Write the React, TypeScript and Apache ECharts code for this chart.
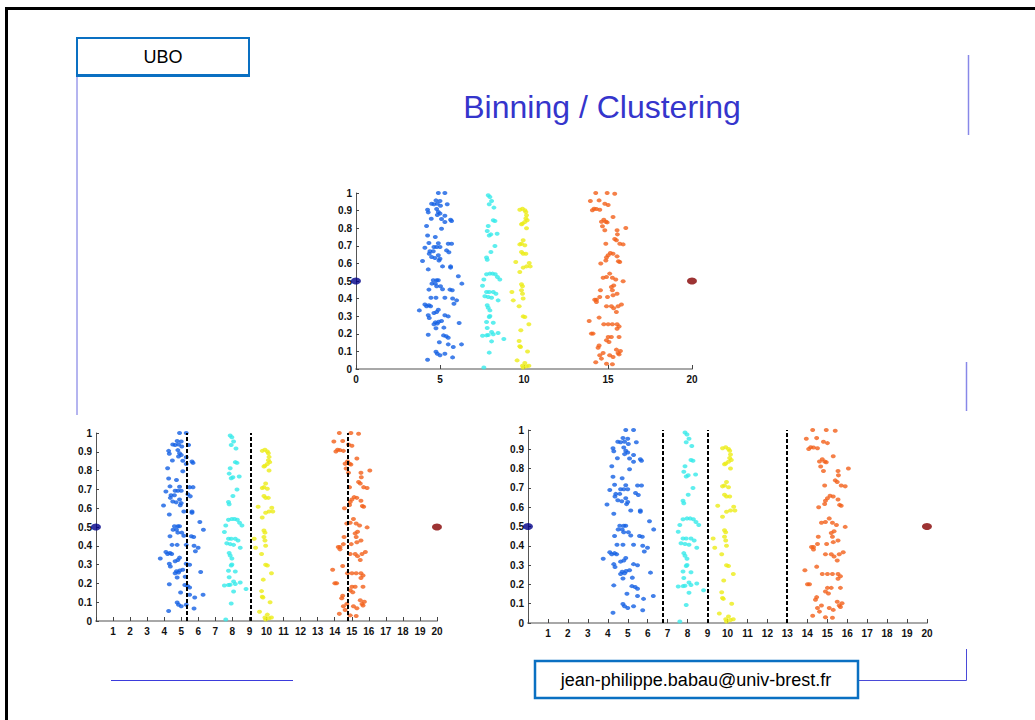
import React, { useEffect, useRef } from "react";
import * as echarts from "echarts";

// ---- data ----
const bluePoints: number[][] = [
  [4.90, 1.00], [5.29, 1.00], [4.76, 0.958], [5.00, 0.955],
  [4.50, 0.939], [4.64, 0.936], [4.84, 0.939], [5.03, 0.928], [5.43, 0.936],
  [4.26, 0.905], [4.30, 0.890], [4.80, 0.909], [4.90, 0.892],
  [5.00, 0.883], [4.84, 0.875], [5.29, 0.871],
  [4.48, 0.854], [5.09, 0.852], [5.63, 0.848], [5.69, 0.841], [5.29, 0.835],
  [5.09, 0.797], [4.20, 0.8125], [4.26, 0.758], [4.72, 0.75],
  [4.34, 0.716], [4.10, 0.689], [4.90, 0.714], [5.49, 0.712], [5.69, 0.712],
  [4.64, 0.693], [4.80, 0.693], [5.00, 0.693],
  [4.40, 0.669], [4.36, 0.655], [4.60, 0.669], [5.39, 0.674], [5.53, 0.663],
  [4.90, 0.646], [5.00, 0.627], [4.94, 0.616], [4.50, 0.636], [4.70, 0.631],
  [3.96, 0.614], [5.15, 0.583], [5.63, 0.583], [5.63, 0.576], [4.30, 0.566],
  [6.09, 0.527], [6.30, 0.485],
  [4.60, 0.504], [4.80, 0.504], [4.90, 0.504],
  [4.52, 0.485], [4.72, 0.485], [5.03, 0.470], [5.15, 0.453], [4.80, 0.470], [5.59, 0.451],
  [4.34, 0.451], [5.73, 0.447],
  [4.46, 0.405], [4.76, 0.405], [5.29, 0.405], [5.75, 0.400],
  [5.99, 0.390], [5.83, 0.371],
  [4.34, 0.362], [4.20, 0.356], [4.44, 0.356], [4.10, 0.367], [3.77, 0.333],
  [4.90, 0.337], [4.64, 0.318], [4.80, 0.324],
  [4.30, 0.305], [4.36, 0.290], [5.29, 0.305], [5.49, 0.299],
  [4.72, 0.265], [4.92, 0.269], [5.09, 0.273], [4.84, 0.258], [4.64, 0.254],
  [5.23, 0.235], [4.76, 0.231], [6.14, 0.261],
  [4.30, 0.195], [5.21, 0.191], [5.37, 0.186], [5.49, 0.178],
  [4.96, 0.152], [5.49, 0.140], [5.79, 0.125], [6.28, 0.140],
  [4.76, 0.098], [4.84, 0.087], [5.00, 0.078], [5.29, 0.087],
  [5.75, 0.066], [4.26, 0.053],
];

const cyanPoints: number[][] = [
  [7.87, 0.987], [7.97, 0.977], [8.07, 0.955], [7.93, 0.936], [8.21, 0.917],
  [8.17, 0.845], [8.27, 0.841], [7.87, 0.8125], [7.81, 0.784],
  [8.40, 0.769], [8.03, 0.765], [7.93, 0.759], [8.27, 0.699], [8.03, 0.665],
  [7.77, 0.633], [7.81, 0.621],
  [7.61, 0.508], [7.77, 0.538], [7.97, 0.542], [8.13, 0.542], [8.29, 0.538], [8.42, 0.523], [8.56, 0.508],
  [7.53, 0.473],
  [7.77, 0.4375], [7.93, 0.4375], [8.17, 0.4375], [7.67, 0.413], [7.87, 0.409], [8.33, 0.428], [8.46, 0.390], [8.07, 0.405],
  [7.81, 0.362], [7.87, 0.348], [7.97, 0.333],
  [7.97, 0.301], [7.93, 0.295], [7.77, 0.267], [8.17, 0.263],
  [7.81, 0.233], [8.07, 0.210],
  [7.87, 0.193], [8.17, 0.197], [7.77, 0.191], [7.53, 0.189], [8.46, 0.205],
  [8.80, 0.170], [8.07, 0.157], [7.93, 0.093], [7.61, 0.008],
];

const yellowPoints: number[][] = [
  [9.75, 0.905], [9.91, 0.911], [10.05, 0.902], [10.11, 0.892], [10.15, 0.873], [10.19, 0.845], [10.11, 0.855],
  [9.91, 0.826], [9.85, 0.822], [10.05, 0.835], [10.15, 0.80],
  [9.95, 0.731], [9.85, 0.712], [9.75, 0.708], [10.05, 0.703],
  [9.85, 0.665], [9.95, 0.655], [10.11, 0.655],
  [9.51, 0.608], [10.31, 0.602], [10.15, 0.583], [10.37, 0.583], [9.95, 0.576], [9.75, 0.551],
  [9.85, 0.481], [9.91, 0.470], [9.85, 0.447],
  [9.28, 0.4375], [9.36, 0.390], [9.95, 0.400], [9.91, 0.428], [9.71, 0.356],
  [9.95, 0.299], [10.05, 0.295], [10.29, 0.254], [9.81, 0.220],
  [9.71, 0.159], [9.75, 0.129], [9.79, 0.125], [10.21, 0.100],
  [9.59, 0.049], [10.05, 0.034], [9.91, 0.019], [9.95, 0.008], [10.15, 0.015], [10.29, 0.019],
];

const orangePoints: number[][] = [
  [14.27, 1.0], [14.95, 1.0], [15.40, 0.996],
  [13.95, 0.955], [14.47, 0.958], [14.81, 0.939], [15.01, 0.932],
  [14.17, 0.911], [14.07, 0.902], [14.31, 0.909], [14.51, 0.905],
  [15.30, 0.864], [14.75, 0.848], [14.87, 0.837], [14.61, 0.837], [14.95, 0.833], [14.67, 0.811], [14.81, 0.788],
  [15.54, 0.788], [15.56, 0.765], [16.06, 0.801],
  [15.40, 0.739], [15.50, 0.731], [15.70, 0.712], [15.90, 0.708], [14.87, 0.712],
  [15.14, 0.659], [15.30, 0.655], [15.01, 0.646], [14.91, 0.633], [14.87, 0.617], [15.54, 0.640], [15.62, 0.612], [15.70, 0.608],
  [14.57, 0.600],
  [15.10, 0.542], [15.26, 0.519], [14.91, 0.523], [14.71, 0.519], [15.46, 0.508], [15.34, 0.475], [15.20, 0.466], [15.26, 0.447], [15.90, 0.498],
  [14.55, 0.447], [14.51, 0.409], [14.31, 0.394], [14.21, 0.394], [14.31, 0.381], [14.97, 0.409], [15.30, 0.419], [15.54, 0.428],
  [15.80, 0.367], [15.60, 0.356], [15.34, 0.345], [15.50, 0.324], [15.20, 0.356], [14.91, 0.356],
  [13.88, 0.273], [14.47, 0.292], [14.75, 0.254], [15.01, 0.254], [15.26, 0.254], [15.54, 0.254], [15.66, 0.242], [15.54, 0.229], [15.66, 0.182],
  [14.01, 0.201], [14.11, 0.201],
  [15.01, 0.182], [15.20, 0.182], [15.06, 0.153], [14.91, 0.163],
  [14.47, 0.134], [14.41, 0.121],
  [15.50, 0.110], [15.60, 0.091], [15.74, 0.102], [15.66, 0.083], [15.30, 0.068], [15.10, 0.078],
  [14.71, 0.091], [14.51, 0.078], [14.61, 0.059],
  [14.27, 0.038], [14.91, 0.030], [15.26, 0.027],
];

const leftCenter: number[][] = [[0, 0.5]];
const rightCenter: number[][] = [[20, 0.5]];

const splitsLeft: number[] = [5.33, 9.06, 14.76];
const splitsRight: number[] = [6.74, 9.02, 12.95];

const titleText = "Binning / Clustering";
const headerText = "UBO";
const footerText = "jean-philippe.babau@univ-brest.fr";

const COLORS = {
  blue: "#1460e4",
  cyan: "#36eaea",
  yellow: "#ecec18",
  orange: "#f2601a",
  navy: "#000088",
  darkred: "#840000",
};

const FONT = "Liberation Sans, Arial, Helvetica, sans-serif";

export default function App() {
  const ref = useRef<HTMLDivElement>(null);

  useEffect(() => {
    if (!ref.current) return;
    const chart = echarts.init(ref.current, undefined, { renderer: "svg" });

    const grids = [
      { left: 356, top: 193, width: 336, height: 176 },
      { left: 96, top: 433, width: 341, height: 188 },
      { left: 528, top: 430, width: 399, height: 193 },
    ];

    const xAxes = grids.map((_, i) => ({
      type: "value",
      gridIndex: i,
      min: 0,
      max: 20,
      interval: i === 0 ? 5 : 1,
      splitLine: { show: false },
      axisLine: { show: true, onZero: false, lineStyle: { color: "#a8a8a8", width: 2 } },
      axisTick: { show: true, inside: true, length: 4, lineStyle: { color: "#444", width: 1 } },
      axisLabel: {
        color: "#111",
        fontSize: 10,
        fontWeight: "bold",
        fontFamily: FONT,
        margin: 5,
        formatter: (v: number) => (i > 0 && v === 0 ? "" : String(v)),
      },
    }));

    const yAxes = grids.map((_, i) => ({
      type: "value",
      gridIndex: i,
      min: 0,
      max: 1,
      interval: 0.1,
      splitLine: { show: false },
      axisLine: { show: true, onZero: false, lineStyle: { color: "#555", width: 1 } },
      axisTick: { show: true, inside: true, length: 3, lineStyle: { color: "#444", width: 1 } },
      axisLabel: {
        color: "#111",
        fontSize: 10,
        fontWeight: "bold",
        fontFamily: FONT,
        margin: 4,
        formatter: (v: number) => String(Math.round(v * 10) / 10),
      },
    }));

    const series: any[] = [];
    grids.forEach((_, i) => {
      const splits = i === 1 ? splitsLeft : i === 2 ? splitsRight : null;
      const mk = (data: number[][], color: string, size: number[] | number, withLines = false) => ({
        type: "scatter",
        xAxisIndex: i,
        yAxisIndex: i,
        data,
        symbol: "circle",
        symbolSize: size,
        clip: false,
        itemStyle: { color },
        z: 3,
        ...(withLines && splits
          ? {
              markLine: {
                silent: true,
                symbol: "none",
                label: { show: false },
                lineStyle: { color: "#000", type: [4, 2], width: 2 },
                data: splits.map((s) => ({ xAxis: s })),
              },
            }
          : {}),
      });
      series.push(mk(bluePoints, COLORS.blue, [5, 4], true));
      series.push(mk(cyanPoints, COLORS.cyan, [5, 4]));
      series.push(mk(yellowPoints, COLORS.yellow, [5, 4]));
      series.push(mk(orangePoints, COLORS.orange, [5, 4]));
      series.push(mk(leftCenter, COLORS.navy, [10, 7]));
      series.push(mk(rightCenter, COLORS.darkred, [10, 7]));
    });

    const boxBlue = "#0a70c2";
    const lineBlue = "#6a6ae0";

    const graphic: any[] = [
      // slide frame
      { type: "line", shape: { x1: 5, y1: 8.5, x2: 1035, y2: 8.5 }, style: { stroke: "#000", lineWidth: 3 } },
      { type: "line", shape: { x1: 6.5, y1: 7, x2: 6.5, y2: 720 }, style: { stroke: "#000", lineWidth: 3 } },
      // UBO box
      { type: "rect", shape: { x: 77, y: 38, width: 172, height: 37 }, style: { fill: "#fff", stroke: boxBlue, lineWidth: 2 } },
      { type: "line", shape: { x1: 76, y1: 75.5, x2: 250, y2: 75.5 }, style: { stroke: boxBlue, lineWidth: 3 } },
      {
        type: "text",
        x: 163,
        y: 57,
        style: { text: headerText, fill: "#000", font: `18px ${FONT}`, align: "center", verticalAlign: "middle" },
      },
      // decorative lines
      { type: "line", shape: { x1: 77, y1: 77, x2: 77, y2: 415 }, style: { stroke: lineBlue, lineWidth: 1 } },
      { type: "line", shape: { x1: 968.5, y1: 55, x2: 968.5, y2: 135 }, style: { stroke: "#8888e8", lineWidth: 1.5 } },
      { type: "line", shape: { x1: 966.5, y1: 362, x2: 966.5, y2: 411 }, style: { stroke: "#8888e8", lineWidth: 1.5 } },
      { type: "line", shape: { x1: 111, y1: 680.5, x2: 293, y2: 680.5 }, style: { stroke: "#3b3bdc", lineWidth: 1 } },
      { type: "polyline", shape: { points: [[858, 680.5], [966.5, 680.5], [966.5, 649]] }, style: { stroke: "#4a4ad8", lineWidth: 1, fill: "none" } },
      // title
      {
        type: "text",
        x: 602,
        y: 107,
        style: { text: titleText, fill: "#3535cc", font: `32px ${FONT}`, align: "center", verticalAlign: "middle" },
      },
      // footer box
      { type: "rect", shape: { x: 535, y: 661, width: 323, height: 37 }, style: { fill: "#fff", stroke: boxBlue, lineWidth: 2.5 } },
      {
        type: "text",
        x: 696,
        y: 680,
        style: { text: footerText, fill: "#000", font: `18px ${FONT}`, align: "center", verticalAlign: "middle" },
      },
    ];

    chart.setOption({
      animation: false,
      backgroundColor: "#fff",
      grid: grids.map((g) => ({ ...g, containLabel: false })),
      xAxis: xAxes,
      yAxis: yAxes,
      series,
      graphic,
    });

    return () => chart.dispose();
  }, []);

  return (
    <div
      ref={ref}
      style={{ position: "fixed", left: 0, top: 0, width: 1035, height: 720, background: "#fff" }}
    />
  );
}
